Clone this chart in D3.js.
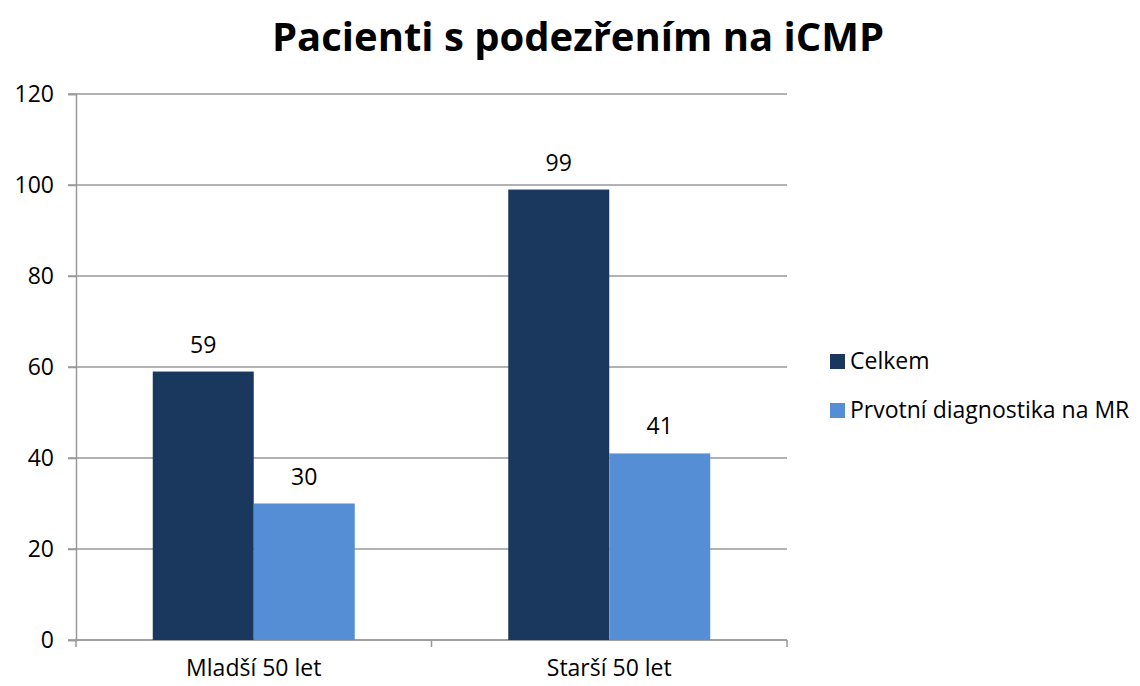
<!DOCTYPE html>
<html>
<head>
	<meta charset="utf-8">
	<title>Pacienti s podezřením na iCMP</title>
	<script src="https://d3js.org/d3.v7.min.js"></script>
	<style>
		body { margin: 0; background: #fff; }
		svg { display: block; font-family: 'Open Sans', sans-serif; }
	</style>
</head>
<body>
	<svg id="chart" width="1140" height="686"></svg>
	<script>
		var categories = ['Mladší 50 let', 'Starší 50 let'];
		var seriesNames = ['Celkem', 'Prvotní diagnostika na MR'];
		var celkem = [59, 99];
		var prvotni = [30, 41];
		var yTicks = [0, 20, 40, 60, 80, 100, 120];
		var colors = ['#1a385e', '#558ed5'];

		var plotLeft = 76, plotRight = 787, plotTop = 94, plotBottom = 640;
		var fs = 23;
		var svg = d3.select('#chart');

		var data = categories.map((c, i) => ({ cat: c, values: [celkem[i], prvotni[i]] }));

		var x0 = d3.scaleBand().domain(categories).range([plotLeft, plotRight]).paddingInner(0).paddingOuter(0);
		var x1 = d3.scaleBand().domain(seriesNames).range([0, x0.bandwidth()]).paddingOuter(0.76);
		var y = d3.scaleLinear().domain([0, 120]).range([plotBottom, plotTop]);

		// grid lines
		svg.append('g')
			.selectAll('line')
			.data(yTicks)
			.enter().append('line')
			.attr('x1', plotLeft - 8)
			.attr('x2', plotRight)
			.attr('y1', d => y(d))
			.attr('y2', d => y(d))
			.attr('stroke', '#999')
			.attr('stroke-width', 1.5);

		// y axis
		var yAxis = d3.axisLeft(y).tickValues(yTicks).tickSize(8).tickPadding(14);
		svg.append('g')
			.attr('transform', 'translate(' + plotLeft + ',0)')
			.call(yAxis)
			.call(g => g.selectAll('line').attr('stroke', '#999').attr('stroke-width', 1.5))
			.call(g => g.select('.domain').attr('stroke', '#999').attr('stroke-width', 1.5))
			.call(g => g.selectAll('text').attr('font-size', fs).attr('fill', '#000').attr('font-family', 'Open Sans'));

		// x axis
		var xAxis = d3.axisBottom(x0).tickSize(0).tickPadding(20);
		svg.append('g')
			.attr('transform', 'translate(0,' + plotBottom + ')')
			.call(xAxis)
			.call(g => g.select('.domain').attr('stroke', '#999').attr('stroke-width', 1.5).attr('d', 'M' + plotLeft + ',0H' + plotRight))
			.call(g => g.selectAll('text').attr('font-size', fs).attr('fill', '#000').attr('font-family', 'Open Sans'));

		// x tick marks at category boundaries
		svg.append('g')
			.selectAll('line')
			.data(categories.concat(['end']))
			.enter().append('line')
			.attr('x1', (d, i) => plotLeft + i * x0.bandwidth())
			.attr('x2', (d, i) => plotLeft + i * x0.bandwidth())
			.attr('y1', plotBottom)
			.attr('y2', plotBottom + 7)
			.attr('stroke', '#999')
			.attr('stroke-width', 1.5);

		// bars
		var groups = svg.append('g')
			.selectAll('g')
			.data(data)
			.enter().append('g')
			.attr('transform', d => 'translate(' + x0(d.cat) + ',0)');

		groups.selectAll('rect')
			.data(d => d.values.map((v, i) => ({ key: seriesNames[i], value: v, i: i })))
			.enter().append('rect')
			.attr('x', d => x1(d.key))
			.attr('y', d => y(d.value))
			.attr('width', x1.bandwidth())
			.attr('height', d => plotBottom - y(d.value))
			.attr('fill', d => colors[d.i]);

		groups.selectAll('text')
			.data(d => d.values.map((v, i) => ({ key: seriesNames[i], value: v })))
			.enter().append('text')
			.attr('x', d => x1(d.key) + x1.bandwidth() / 2)
			.attr('y', d => y(d.value) - 19)
			.attr('text-anchor', 'middle')
			.attr('font-size', fs)
			.text(d => d.value);

		// title
		svg.append('text')
			.attr('x', 578)
			.attr('y', 51)
			.attr('text-anchor', 'middle')
			.attr('font-size', 40)
			.attr('font-weight', 'bold')
			.text('Pacienti s podezřením na iCMP');

		// legend
		var legend = svg.append('g')
			.selectAll('g')
			.data(seriesNames)
			.enter().append('g')
			.attr('transform', (d, i) => 'translate(830,' + (361 + i * 49) + ')');

		legend.append('rect')
			.attr('x', 0)
			.attr('y', -7)
			.attr('width', 15)
			.attr('height', 15)
			.attr('fill', (d, i) => colors[i]);

		legend.append('text')
			.attr('x', 20)
			.attr('y', 8)
			.attr('font-size', fs)
			.text(d => d);
	</script>
</body>
</html>
